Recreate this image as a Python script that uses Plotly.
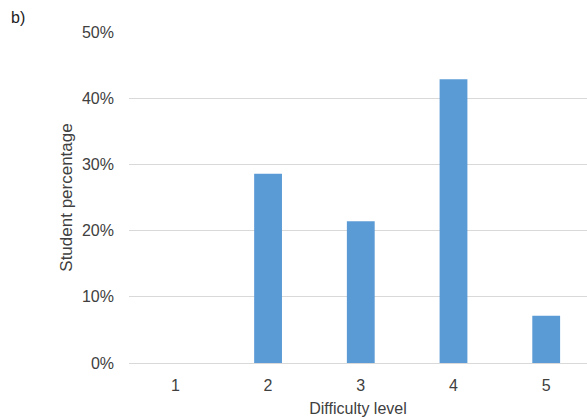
import plotly.graph_objects as go

categories = ["1", "2", "3", "4", "5"]
percentages = [0.0, 0.2857, 0.2143, 0.4286, 0.0714]
y_ticks = [0, 0.1, 0.2, 0.3, 0.4, 0.5]
y_tick_labels = ["0%", "10%", "20%", "30%", "40%", "50%"]

font_family = "Liberation Sans, Arial, sans-serif"
text_color = "#404040"

W, H = 587, 418
ML, MR, MT, MB = 129, 0, 32, 55

fig = go.Figure(
    go.Bar(
        x=categories,
        y=percentages,
        marker=dict(color="#5B9BD5", line=dict(width=0)),
        hoverinfo="skip",
    )
)

fig.update_layout(
    width=W,
    height=H,
    margin=dict(l=ML, r=MR, t=MT, b=MB),
    paper_bgcolor="white",
    plot_bgcolor="white",
    bargap=0.7,
    showlegend=False,
    font=dict(family=font_family, size=16, color=text_color),
    annotations=[
        dict(
            text="b)",
            x=(18 - ML) / (W - ML - MR),
            y=(H - MB - 17) / (H - MT - MB),
            xref="paper", yref="paper",
            xanchor="center", yanchor="middle",
            showarrow=False, font=dict(size=16, color="#222"),
        )
    ],
)

fig.update_xaxes(
    type="category",
    range=[-0.5, 4.44],
    showgrid=False,
    showline=False,
    zeroline=False,
    ticks="",
    ticklabelstandoff=11,
    tickfont=dict(size=16, color=text_color),
    title=dict(text="Difficulty level", font=dict(size=16, color=text_color), standoff=9),
)
fig.update_yaxes(
    range=[0, 0.5],
    tickvals=y_ticks,
    ticktext=y_tick_labels,
    showgrid=True,
    gridcolor="#D9D9D9",
    gridwidth=1,
    zeroline=True,
    zerolinecolor="#D9D9D9",
    zerolinewidth=1,
    showline=False,
    ticks="",
    ticklabelstandoff=14,
    tickfont=dict(size=16, color=text_color),
    title=dict(text="Student percentage", font=dict(size=17, color=text_color), standoff=5),
)

fig.write_html(
    "out.html",
    config={"displayModeBar": False, "staticPlot": True},
    post_script="document.body.style.margin='0';document.body.style.overflow='hidden';",
)
